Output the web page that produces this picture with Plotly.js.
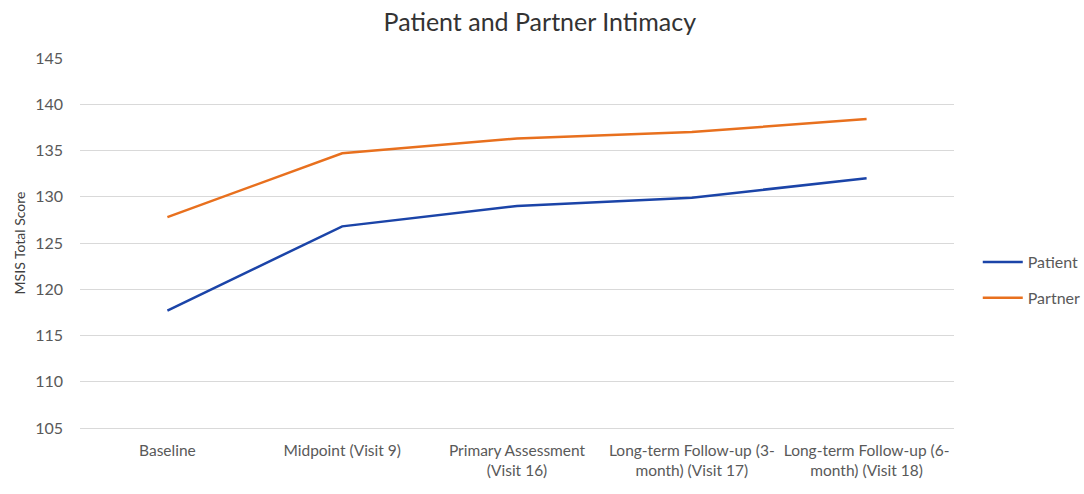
<!DOCTYPE html>
<html>
<head>
<meta charset="utf-8">
<script src="https://cdn.plot.ly/plotly-3.0.1.min.js"></script>
<style>html,body{margin:0;padding:0;background:#fff;}#chart{width:1084px;height:494px;}</style>
</head>
<body>
<div id="chart"></div>
<script>
const categories = [
  "Baseline",
  "Midpoint (Visit 9)",
  "Primary Assessment<br>(Visit 16)",
  "Long-term Follow-up (3-<br>month) (Visit 17)",
  "Long-term Follow-up (6-<br>month) (Visit 18)"
];
const patientValues = [117.7, 126.8, 129.0, 129.9, 132.0];
const partnerValues = [127.8, 134.7, 136.3, 137.0, 138.4];
const yTicks = [105, 110, 115, 120, 125, 130, 135, 140, 145];

const FONT = "Lato, 'Open Sans', sans-serif";
const traces = [
  {x: categories, y: patientValues, name: "Patient", type: "scatter", mode: "lines",
   legendgroup: "a", line: {color: "#1b44a8", width: 2.5}},
  {x: categories, y: partnerValues, name: "Partner", type: "scatter", mode: "lines",
   legendgroup: "b", line: {color: "#e8701e", width: 2.5}}
];
const layout = {
  width: 1084, height: 494,
  margin: {l: 80, r: 130, t: 58, b: 66, autoexpand: false},
  paper_bgcolor: "#fff", plot_bgcolor: "#fff",
  font: {family: FONT, color: "#595959", size: 16},
  title: {text: "Patient and Partner Intimacy", font: {family: FONT, size: 25, color: "#333"},
          x: 0.498, xref: "container", y: 0.955, yref: "container", yanchor: "middle"},
  xaxis: {type: "category", showgrid: false, zeroline: false, showline: true,
          linecolor: "#d9d9d9", linewidth: 1, tickangle: 0, automargin: false,
          ticks: "", ticklabelstandoff: 8, tickfont: {size: 15.5, color: "#595959"}, range: [-0.5, 4.5]},
  yaxis: {range: [105, 145], tickvals: yTicks, showgrid: true, gridcolor: "#d9d9d9", gridwidth: 1,
          zeroline: false, showline: false, ticks: "", ticklabelstandoff: 16, automargin: false,
          tickfont: {size: 16, color: "#595959"},
          title: {text: "MSIS Total Score", font: {size: 14, color: "#404040"}, standoff: 6}},
  legend: {x: 0.902, xref: "container", xanchor: "left", y: 0.4, yanchor: "middle", traceorder: "grouped",
           tracegroupgap: 12, font: {size: 16, color: "#595959"}, itemwidth: 40},
  showlegend: true
};
Plotly.newPlot("chart", traces, layout, {displayModeBar: false});
</script>
</body>
</html>
